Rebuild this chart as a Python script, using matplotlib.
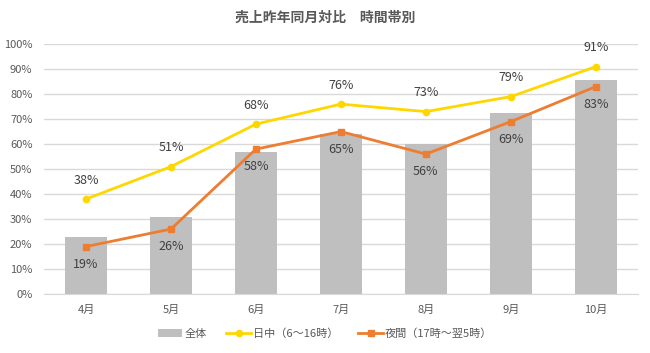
import matplotlib
matplotlib.use("Agg")
import matplotlib.pyplot as plt
import numpy as np

plt.rcParams['font.family'] = ['Noto Sans CJK JP', 'DejaVu Sans']

months = ['4月', '5月', '6月', '7月', '8月', '9月', '10月']
total = [23, 31, 57, 64, 60, 72.5, 85.5]
daytime = [38, 51, 68, 76, 73, 79, 91]
night = [19, 26, 58, 65, 56, 69, 83]
yticks = list(range(0, 101, 10))

fig = plt.figure(figsize=(6.5, 3.53), dpi=100)
ax = fig.add_axes([0.067, 0.167, 0.915, 0.708])
x = np.arange(len(months))

b = ax.bar(x, total, width=0.5, color='#BFBFBF', label='全体', zorder=2)
l1, = ax.plot(x, daytime, color='#FFD700', lw=2, marker='o', ms=4.5, label='日中（6～16時）', zorder=3)
l2, = ax.plot(x, night, color='#ED7D31', lw=2, marker='s', ms=4.5, label='夜間（17時～翌5時）', zorder=3)

for xi, v in zip(x, daytime):
    ax.annotate(f'{v}%', (xi, v), xytext=(0, 9), textcoords='offset points',
                ha='center', va='bottom', fontsize=9, color='#404040')
for xi, v in zip(x, night):
    ax.annotate(f'{v}%', (xi, v), xytext=(0, -8), textcoords='offset points',
                ha='center', va='top', fontsize=9, color='#404040')

ax.set_xlim(-0.5, len(months) - 0.5)
ax.set_ylim(0, 100)
ax.set_yticks(yticks)
ax.set_yticklabels([f'{t}%' for t in yticks], fontsize=8, color='#595959')
ax.set_xticks(x)
ax.set_xticklabels(months, fontsize=8, color='#595959')
ax.grid(axis='y', color='#D9D9D9', lw=1, zorder=0)
ax.set_axisbelow(True)
for s in ['top', 'right', 'left']:
    ax.spines[s].set_visible(False)
ax.spines['bottom'].set_color('#D9D9D9')
ax.tick_params(axis='both', length=0, pad=8)

fig.text(0.5, 0.95, '売上昨年同月対比　時間帯別', ha='center', va='center',
         fontsize=10, fontweight='bold', color='#595959')

fig.legend(handles=[b, l1, l2], loc='center', bbox_to_anchor=(0.5, 0.055), ncol=3, frameon=False,
           fontsize=8, labelcolor='#595959', handlelength=2.2, columnspacing=1.8,
           handletextpad=0.2)

fig.savefig('out.png', dpi=100)
